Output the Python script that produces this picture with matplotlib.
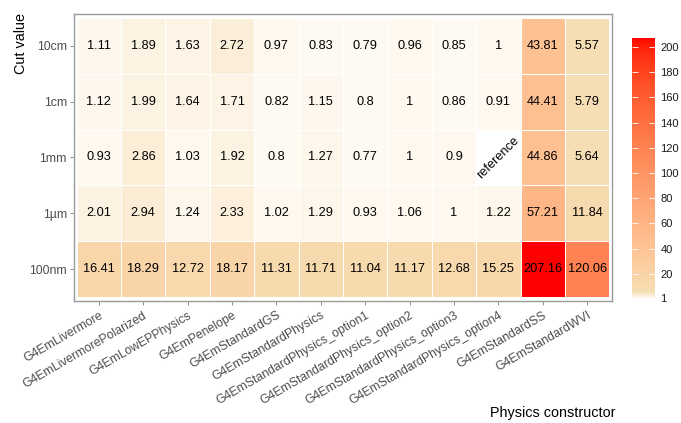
"""
Relative CPU time per physics constructor and production cut, drawn as a
ggplot-style heatmap with a white -> wheat -> red colour scale.
"""
import numpy as np
import matplotlib

matplotlib.use("Agg")
import matplotlib.pyplot as plt
from matplotlib.colors import ListedColormap, Normalize

plt.rcParams["font.family"] = ["Liberation Sans", "DejaVu Sans"]

constructors = [
    "G4EmLivermore",
    "G4EmLivermorePolarized",
    "G4EmLowEPPhysics",
    "G4EmPenelope",
    "G4EmStandardGS",
    "G4EmStandardPhysics",
    "G4EmStandardPhysics_option1",
    "G4EmStandardPhysics_option2",
    "G4EmStandardPhysics_option3",
    "G4EmStandardPhysics_option4",
    "G4EmStandardSS",
    "G4EmStandardWVI",
]
cuts = ["10cm", "1cm", "1mm", "1µm", "100nm"]  # top to bottom

cut_10cm = [1.11, 1.89, 1.63, 2.72, 0.97, 0.83, 0.79, 0.96, 0.85, 1, 43.81, 5.57]
cut_1cm = [1.12, 1.99, 1.64, 1.71, 0.82, 1.15, 0.8, 1, 0.86, 0.91, 44.41, 5.79]
cut_1mm = [0.93, 2.86, 1.03, 1.92, 0.8, 1.27, 0.77, 1, 0.9, np.nan, 44.86, 5.64]
cut_1um = [2.01, 2.94, 1.24, 2.33, 1.02, 1.29, 0.93, 1.06, 1, 1.22, 57.21, 11.84]
cut_100nm = [16.41, 18.29, 12.72, 18.17, 11.31, 11.71, 11.04, 11.17, 12.68, 15.25,
             207.16, 120.06]

reference_cell = ("1mm", "G4EmStandardPhysics_option4")
legend_breaks = [1, 20, 40, 60, 80, 100, 120, 140, 160, 180, 200]


# ---- colour scale: interpolate in Lab like scales::gradient_n_pal --------
def _srgb_to_lab(rgb):
    rgb = np.asarray(rgb, dtype=float)
    lin = np.where(rgb <= 0.04045, rgb / 12.92, ((rgb + 0.055) / 1.055) ** 2.4)
    m = np.array([[0.4124, 0.3576, 0.1805],
                  [0.2126, 0.7152, 0.0722],
                  [0.0193, 0.1192, 0.9505]])
    xyz = lin @ m.T / np.array([0.95047, 1.0, 1.08883])
    f = np.where(xyz > 0.008856, np.cbrt(xyz), 7.787 * xyz + 16 / 116)
    return np.stack([116 * f[..., 1] - 16,
                     500 * (f[..., 0] - f[..., 1]),
                     200 * (f[..., 1] - f[..., 2])], axis=-1)


def _lab_to_srgb(lab):
    lab = np.asarray(lab, dtype=float)
    fy = (lab[..., 0] + 16) / 116
    fx = fy + lab[..., 1] / 500
    fz = fy - lab[..., 2] / 200
    f = np.stack([fx, fy, fz], axis=-1)
    xyz = np.where(f ** 3 > 0.008856, f ** 3, (f - 16 / 116) / 7.787)
    xyz = xyz * np.array([0.95047, 1.0, 1.08883])
    m_inv = np.array([[3.2406, -1.5372, -0.4986],
                      [-0.9689, 1.8758, 0.0415],
                      [0.0557, -0.2040, 1.0570]])
    lin = xyz @ m_inv.T
    lin = np.clip(lin, 0, 1)
    rgb = np.where(lin <= 0.0031308, 12.92 * lin, 1.055 * lin ** (1 / 2.4) - 0.055)
    return np.clip(rgb, 0, 1)


values = np.array([cut_10cm, cut_1cm, cut_1mm, cut_1um, cut_100nm], dtype=float)
vmin, vmax = np.nanmin(values), np.nanmax(values)

# white sits just below zero, wheat near 5.5, red at the maximum
stop_colours = np.array([[1.0, 1.0, 1.0],
                         [245 / 255, 222 / 255, 179 / 255],
                         [1.0, 0.0, 0.0]])
stop_vals = np.array([-0.3, 5.5, vmax])
stop_pos = (stop_vals - vmin) / (vmax - vmin)
stop_lab = _srgb_to_lab(stop_colours)
t = np.linspace(0, 1, 2048)
lab = np.stack([np.interp(t, stop_pos, stop_lab[:, k]) for k in range(3)], axis=-1)
cmap = ListedColormap(_lab_to_srgb(lab))
cmap.set_bad("white")
norm = Normalize(vmin=vmin, vmax=vmax)

# ---- figure ------------------------------------------------------------
fig = plt.figure(figsize=(6.81, 4.23), dpi=100)
W, H = 681, 423
ax = fig.add_axes([74 / W, 1 - 301 / H, (612 - 74) / W, (301 - 14) / H])

nrow, ncol = values.shape
ax.pcolormesh(
    np.arange(ncol + 1) - 0.5,
    np.arange(nrow + 1) - 0.5,
    np.ma.masked_invalid(values),
    cmap=cmap,
    norm=norm,
    edgecolors="white",
    linewidth=0.5,
)

for i, cut in enumerate(cuts):
    for j, name in enumerate(constructors):
        v = values[i, j]
        if np.isnan(v):
            if (cut, name) == reference_cell:
                ax.text(j, i, "reference", ha="center", va="center",
                        rotation=45, fontsize=9.2, color="black")
            continue
        ax.text(j, i, f"{v:g}", ha="center", va="center",
                fontsize=9.2, color="black")

pad_x, pad_y = 0.06, 0.07
ax.set_xlim(-0.5 - pad_x, ncol - 0.5 + pad_x)
ax.set_ylim(nrow - 0.5 + pad_y, -0.5 - pad_y)

ax.set_xticks(range(ncol))
ax.set_xticklabels(constructors, rotation=30, ha="right", rotation_mode="anchor",
                   fontsize=8.8, color="#4D4D4D")
ax.set_yticks(range(nrow))
ax.set_yticklabels(cuts, fontsize=8.8, color="#4D4D4D")
ax.tick_params(axis="both", length=3, width=0.6, color="#7F7F7F", pad=2)
ax.tick_params(axis="x", pad=3)
for spine in ax.spines.values():
    spine.set_color("#9A9A9A")
    spine.set_linewidth(1.0)

fig.text(21 / W, 1 - 13 / H, "Cut value", rotation=90, ha="center", va="top",
         fontsize=10.4)
fig.text(616 / W, 1 - 413 / H, "Physics constructor", ha="right", va="center",
         fontsize=10.4)

# ---- colour bar ----------------------------------------------------------
cax = fig.add_axes([632 / W, 1 - 298 / H, 23 / W, (298 - 38) / H])
cb = fig.colorbar(plt.cm.ScalarMappable(norm=norm, cmap=cmap), cax=cax)
cb.outline.set_visible(False)
cb.set_ticks(legend_breaks)
cax.tick_params(axis="y", direction="in", length=4.5, width=0.6, color="white",
                left=True, right=True, labelsize=8, pad=4)
for lbl in cax.get_yticklabels():
    lbl.set_color("#1A1A1A")

fig.savefig("out.png", dpi=100)
plt.close(fig)
